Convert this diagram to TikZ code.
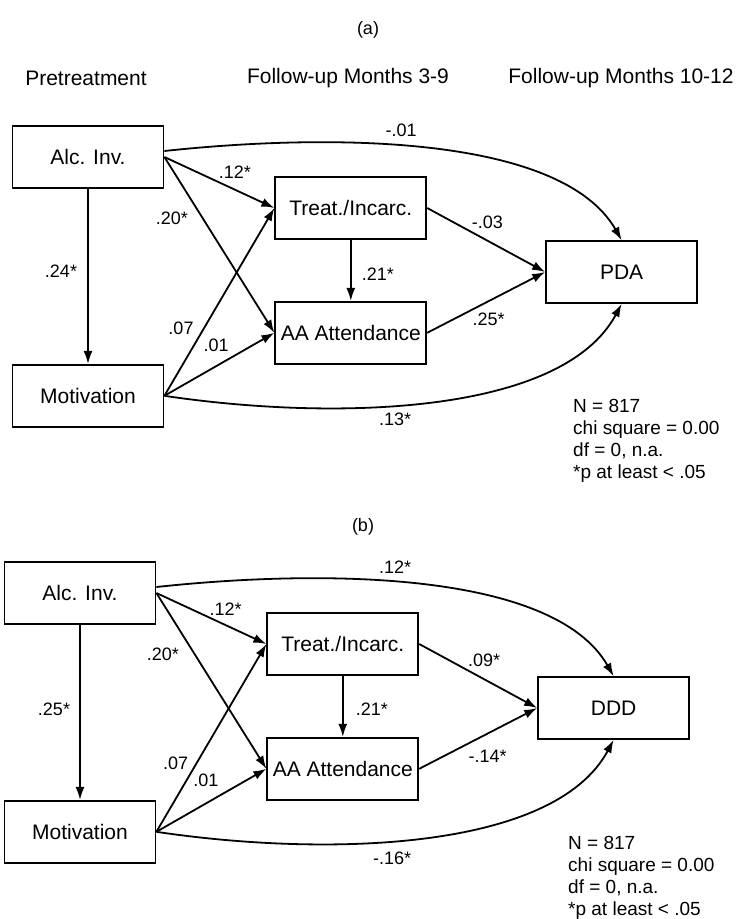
\documentclass[tikz,border=0pt]{standalone}
\usepackage{fontspec}
\setmainfont{Liberation Sans}
\usetikzlibrary{positioning, arrows.meta}

\begin{document}
\begin{tikzpicture}[x=1pt, y=1pt,
    box/.style={draw, line width=1.8pt, minimum width=151pt, minimum height=62pt, inner sep=0pt, font=\fontsize{21}{25}\selectfont},
    arr/.style={line width=1.8pt, -{Latex[length=13pt, width=9pt]}},
    lbl/.style={inner sep=0pt, font=\fontsize{18}{21}\selectfont},
    head/.style={inner sep=0pt, font=\fontsize{21}{25}\selectfont},
    stats/.style={anchor=north west, align=left, inner sep=0pt, font=\fontsize{19}{22}\selectfont}]
    \useasboundingbox (0,0) rectangle (746,-919);

    % panel (a)
    \node[lbl] (tagA) at (368,-30) {(a)};
    \node[head] (hPre) at (86,-78) {Pretreatment};
    \node[head] (hMid) at (348,-78) {Follow-up Months 3-9};
    \node[head] (hEnd) at (621,-78) {Follow-up Months 10-12};

    \node[box] (alcA) at (88,-157) {Alc. Inv.};
    \node[box, below=175pt of alcA] (motA) {Motivation};
    \node[box, right=110pt of alcA, yshift=-51pt] (treatA) {Treat./Incarc.};
    \node[box, below=61pt of treatA] (aaA) {AA Attendance};
    \node[box, right=118pt of treatA, yshift=-64pt] (pdaA) {PDA};
    \node[stats] (statA) at (573,-399) {N = 817\\chi square = 0.00\\df = 0, n.a.\\*p at least < .05};

    \draw[arr] (alcA.south) -- node[lbl, pos=.47, xshift=-27pt] {.24*} (alcA.south |- motA.north);
    \draw[arr] (alcA.east) -- node[lbl, pos=.64, yshift=17pt] {.12*} (treatA.west);
    \draw[arr] (alcA.east) -- node[lbl, pos=.35, xshift=-31pt] {.20*} (aaA.west);
    \draw[arr] (motA.east) -- node[lbl, pos=.36, xshift=-23pt] {.07} (treatA.west);
    \draw[arr] (motA.east) -- node[lbl, pos=.47, yshift=21pt] {.01} (aaA.west);
    \draw[arr] (treatA.south) -- node[lbl, pos=.56, xshift=27pt] {.21*} (aaA.north);
    \draw[arr] (treatA.east) -- node[lbl, pos=.51, yshift=18pt] {-.03} (pdaA.west);
    \draw[arr] (aaA.east) -- node[lbl, pos=.52, yshift=-18pt] {.25*} (pdaA.west);
    \draw[arr] ([yshift=6pt]alcA.east) .. controls +(167,18) and +(-60,105) .. node[lbl, pos=.4, xshift=21pt, yshift=14pt] {-.01} (pdaA.north);
    \draw[arr] (motA.east) .. controls +(167,-25) and +(-60,-112) .. node[lbl, pos=.4, xshift=15pt, yshift=-13pt] {.13*} (pdaA.south);

    % panel (b)
    \node[lbl] (tagB) at (363,-527) {(b)};

    \node[box] (alcB) at (80,-593) {Alc. Inv.};
    \node[box, below=175pt of alcB] (motB) {Motivation};
    \node[box, right=110pt of alcB, yshift=-51pt] (treatB) {Treat./Incarc.};
    \node[box, below=61pt of treatB] (aaB) {AA Attendance};
    \node[box, right=118pt of treatB, yshift=-64pt] (dddB) {DDD};
    \node[stats] (statB) at (568,-836) {N = 817\\chi square = 0.00\\df = 0, n.a.\\*p at least < .05};

    \draw[arr] (alcB.south) -- node[lbl, pos=.48, xshift=-26pt] {.25*} (alcB.south |- motB.north);
    \draw[arr] (alcB.east) -- node[lbl, pos=.63, yshift=16pt] {.12*} (treatB.west);
    \draw[arr] (alcB.east) -- node[lbl, pos=.35, xshift=-32pt] {.20*} (aaB.west);
    \draw[arr] (motB.east) -- node[lbl, pos=.365, xshift=-21pt] {.07} (treatB.west);
    \draw[arr] (motB.east) -- node[lbl, pos=.45, yshift=23pt] {.01} (aaB.west);
    \draw[arr] (treatB.south) -- node[lbl, pos=.55, xshift=29pt] {.21*} (aaB.north);
    \draw[arr] (treatB.east) -- node[lbl, pos=.55, yshift=19pt] {.09*} (dddB.west);
    \draw[arr] (aaB.east) -- node[lbl, pos=.58, yshift=-23pt] {-.14*} (dddB.west);
    \draw[arr] ([yshift=6pt]alcB.east) .. controls +(167,18) and +(-60,105) .. node[lbl, pos=.4, xshift=23pt, yshift=13pt] {.12*} (dddB.north);
    \draw[arr] (motB.east) .. controls +(167,-25) and +(-60,-112) .. node[lbl, pos=.4, xshift=20pt, yshift=-16pt] {-.16*} (dddB.south);
\end{tikzpicture}
\end{document}
